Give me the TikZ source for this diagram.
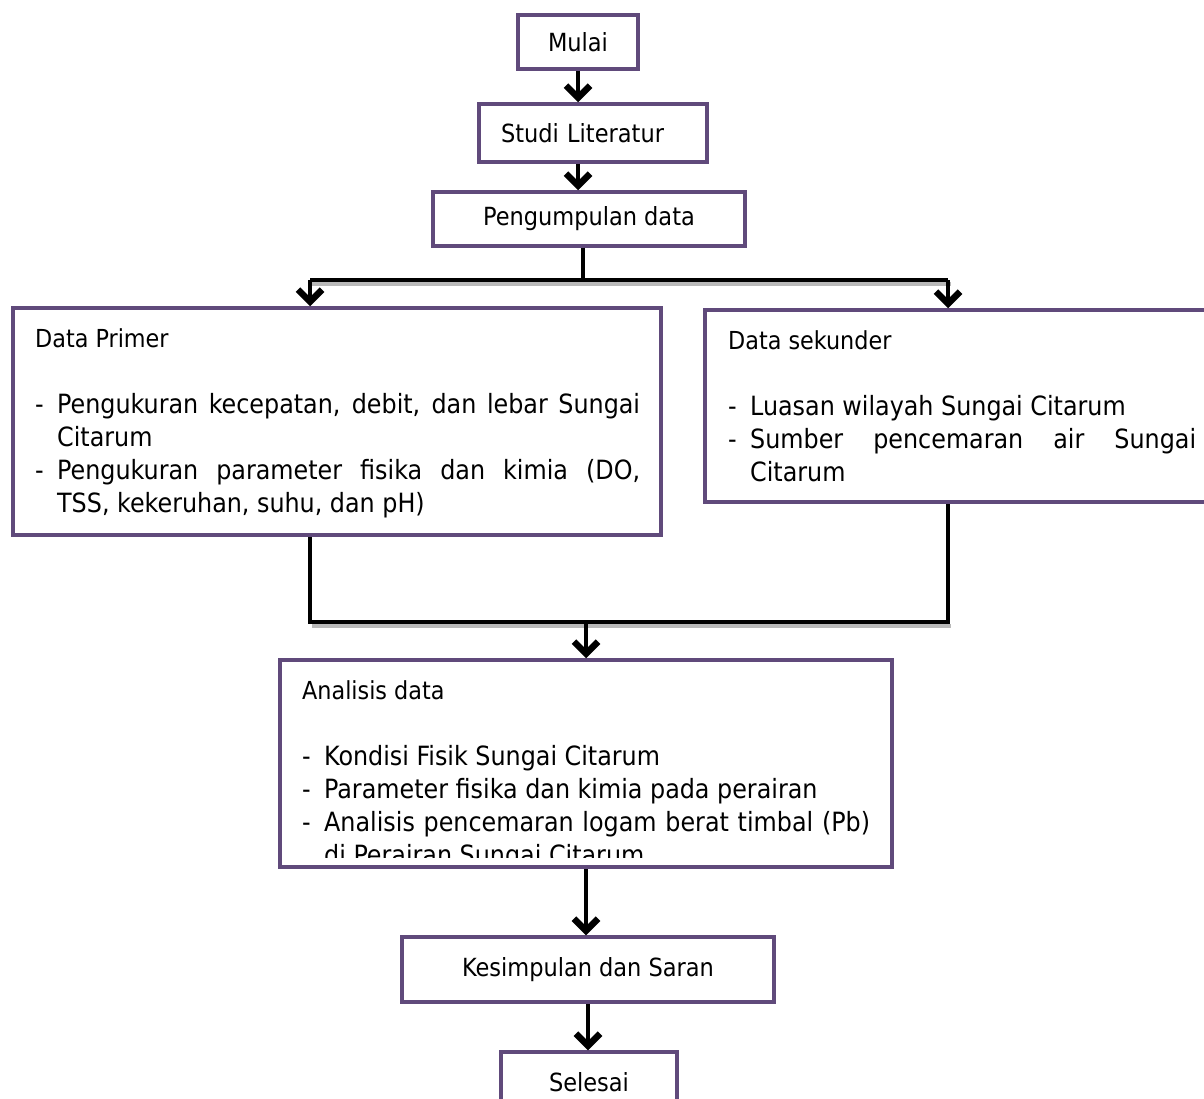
\documentclass[tikz,border=0pt]{standalone}
\usepackage{fontspec}
\setmainfont{DejaVu Sans Condensed}
\usetikzlibrary{arrows.meta,positioning}
\definecolor{boxpurple}{RGB}{96,74,123}
\newcommand{\itm}[1]{\par\hangindent=22pt\hangafter=1\noindent\makebox[22pt][l]{-}#1\par}
\newcommand{\ttl}[1]{{\fontsize{24.8}{27}\selectfont #1\par}\vspace{33pt}}
\begin{document}
\begin{tikzpicture}[x=1pt, y=-1pt, >={Straight Barb[length=12pt,width=24pt,line width=6.5pt]},
  box/.style={draw=boxpurple, line width=3.5pt, inner sep=0pt, fill=white},
  lbl/.style={font=\fontsize{25}{27}\selectfont},
  txt/.style={anchor=north west, inner sep=0pt, align=justify, font=\fontsize{26.5}{33}\selectfont},
  link/.style={line width=4.5pt},
  shade/.style={draw=gray!55, line width=3.5pt}]
\clip (0,0) rectangle (1204,1099);
\fill[white] (0,0) rectangle (1204,1099);
\node[box, minimum width=120pt, minimum height=54pt, lbl] (mulai) at (578,42) {Mulai};
\node[box, minimum width=228pt, minimum height=58pt, lbl, text width=184pt, align=left] (studi) at (593,133) {Studi Literatur};
\node[box, minimum width=312pt, minimum height=54pt, lbl] (kumpul) at (589,219) {Pengumpulan data};
\node[box, minimum width=648pt, minimum height=227pt] (primer) at (337,421.5) {};
\node[box, minimum width=520pt, minimum height=192pt] (sekunder) at (965,406) {};
\node[box, minimum width=612pt, minimum height=207pt] (analisis) at (586,763.5) {};
\node[box, minimum width=372pt, minimum height=65pt, lbl] (simpul) at (588,969.5) {Kesimpulan dan Saran};
\node[box, minimum width=176pt, minimum height=60pt, lbl] (selesai) at (589,1082) {Selesai};
\node[txt, text width=605pt] (primertxt) at (35,328) {\ttl{Data Primer}%
  \itm{Pengukuran kecepatan, debit, dan lebar Sungai\linebreak Citarum}%
  \itm{Pengukuran parameter fisika dan kimia (DO,\linebreak TSS, kekeruhan, suhu, dan pH)}};
\node[txt, text width=468pt] (sekundertxt) at (728,330) {\ttl{Data sekunder}%
  \itm{Luasan wilayah Sungai Citarum}%
  \itm{Sumber pencemaran air Sungai\linebreak Citarum}};
\begin{scope}
\clip (284,664) rectangle (888,857);
\node[txt, text width=568pt] (analisistxt) at (302,680) {\ttl{Analisis data}%
  \itm{Kondisi Fisik Sungai Citarum}%
  \itm{Parameter fisika dan kimia pada perairan}%
  \itm{Analisis pencemaran logam berat timbal (Pb)\linebreak di Perairan Sungai Citarum}};
\end{scope}
\coordinate (split) at (583,280);
\coordinate (kiri) at (310,280);
\coordinate (kanan) at (948,280);
\coordinate (kiri2) at (310,622);
\coordinate (kanan2) at (948,622);
\coordinate (gabung) at (586,622);
\draw[link,->] (mulai.south) -- (mulai.south |- studi.north);
\draw[link,->] (studi.south -| mulai) -- (mulai |- kumpul.north);
\draw[link] (kumpul.south -| split) -- (split);
\draw[shade] ([xshift=2pt,yshift=-4pt]kiri) -- ([xshift=3pt,yshift=-4pt]kanan);
\draw[link] (kiri) -- (kanan);
\draw[link,->] (kiri) -- (kiri |- primer.north);
\draw[link,->] (kanan) -- (kanan |- sekunder.north);
\draw[shade] ([xshift=2pt,yshift=-4pt]kiri2) -- ([xshift=3pt,yshift=-4pt]kanan2);
\draw[link] (primer.south -| kiri2) -- (kiri2) -- (kanan2) -- (kanan2 |- sekunder.south);
\draw[link,->] (gabung) -- (gabung |- analisis.north);
\draw[link,->] (analisis.south) -- (analisis.south |- simpul.north);
\draw[link,->] (simpul.south) -- (simpul.south |- selesai.north);
\end{tikzpicture}
\end{document}
